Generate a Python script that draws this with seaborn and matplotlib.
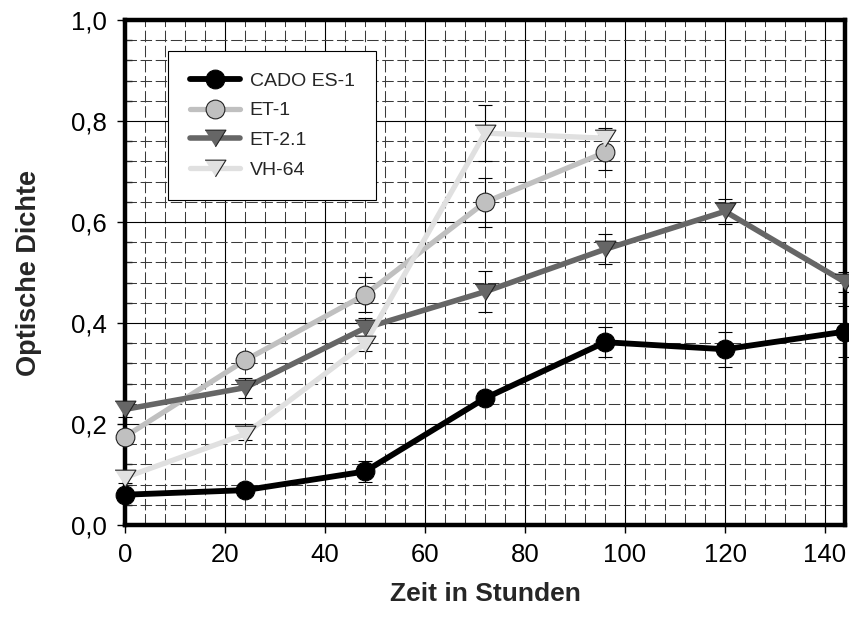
import matplotlib
matplotlib.use("Agg")
import matplotlib.pyplot as plt
import matplotlib.ticker as mticker
import seaborn as sns
import pandas as pd

# ---- data ----
hours_all = [0, 24, 48, 72, 96, 120, 144]
hours_short = [0, 24, 48, 72, 96]

cado_es1 = [0.060, 0.069, 0.106, 0.251, 0.362, 0.348, 0.383]
cado_es1_err = [0.010, 0.010, 0.020, 0.010, 0.030, 0.035, 0.050]

et1 = [0.175, 0.326, 0.456, 0.639, 0.738]
et1_err = [0.010, 0.010, 0.035, 0.048, 0.035]

et21 = [0.229, 0.272, 0.390, 0.462, 0.546, 0.621, 0.481]
et21_err = [0.015, 0.020, 0.020, 0.040, 0.030, 0.025, 0.020]

vh64 = [0.094, 0.180, 0.359, 0.776, 0.766]
vh64_err = [0.010, 0.012, 0.015, 0.055, 0.020]

series_names = ["CADO ES-1", "ET-1", "ET-2.1", "VH-64"]
x_ticks = [0, 20, 40, 60, 80, 100, 120, 140]
y_ticks = [0.0, 0.2, 0.4, 0.6, 0.8, 1.0]
x_label = "Zeit in Stunden"
y_label = "Optische Dichte"

# ---- style ----
sns.set_style("white")
plt.rcParams["font.family"] = ["Liberation Sans", "DejaVu Sans"]

fig = plt.figure(figsize=(8.49, 6.32), dpi=100)
ax = fig.add_axes([125 / 849, 107 / 632, 720 / 849, 505 / 632])

tri = [(-1.0, 0.8), (1.0, 0.8), (0.0, -0.8)]

styles = [
    dict(color="#000000", marker="o", mfc="#000000", mec="#000000", ms=13.5, lw=4.2),
    dict(color="#c0c0c0", marker="o", mfc="#c0c0c0", mec="#222222", ms=13.5, lw=3.8),
    dict(color="#666666", marker=tri, mfc="#666666", mec="#222222", ms=15, lw=4.0),
    dict(color="#e0e0e0", marker=tri, mfc="#e0e0e0", mec="#222222", ms=15, lw=3.8),
]
datasets = [
    (hours_all, cado_es1, cado_es1_err),
    (hours_short, et1, et1_err),
    (hours_all, et21, et21_err),
    (hours_short, vh64, vh64_err),
]

for i, (name, (xs, ys, es), st) in enumerate(zip(series_names, datasets, styles)):
    df = pd.DataFrame({"x": xs, "y": ys})
    ax.errorbar(xs, ys, yerr=es, fmt="none", ecolor="black", elinewidth=0.8,
                capsize=5, capthick=0.8, zorder=3 + i * 0.1, clip_on=False)
    sns.lineplot(data=df, x="x", y="y", ax=ax, label=name, color=st["color"],
                 linewidth=st["lw"], marker=st["marker"], markersize=st["ms"],
                 markerfacecolor=st["mfc"], markeredgecolor=st["mec"],
                 markeredgewidth=0.8, zorder=4 + i * 0.1, clip_on=False)

ax.set_xlim(0, 144)
ax.set_ylim(0, 1.0)
ax.set_xticks(x_ticks)
ax.set_yticks(y_ticks)
ax.xaxis.set_minor_locator(mticker.MultipleLocator(4))
ax.yaxis.set_minor_locator(mticker.MultipleLocator(0.04))
ax.yaxis.set_major_formatter(mticker.FuncFormatter(lambda v, p: f"{v:.1f}".replace(".", ",")))

ax.grid(True, which="major", color="black", linewidth=0.8, linestyle="-")
ax.grid(True, which="minor", color="#3a3a3a", linewidth=0.75, linestyle=(0, (11, 3.5)))
ax.set_axisbelow(True)

for sp in ax.spines.values():
    sp.set_visible(True)
    sp.set_color("black")
    sp.set_linewidth(3.2)
    sp.set_zorder(2.5)

ax.tick_params(axis="both", which="major", direction="out", length=6, width=1,
               colors="black", labelsize=18.5, pad=7)
ax.tick_params(axis="y", which="minor", direction="in", length=5, width=1, left=True)
ax.tick_params(axis="x", which="minor", bottom=False)
ax.tick_params(axis="x", which="major", bottom=True)
ax.tick_params(axis="y", which="major", left=True)

ax.set_xlabel(x_label, fontsize=19, fontweight="bold", labelpad=11)
ax.set_ylabel(y_label, fontsize=19.5, fontweight="bold", labelpad=21)

leg = ax.legend(loc="upper left", bbox_to_anchor=(0.06, 0.939), borderaxespad=0,
                fontsize=14, frameon=True, fancybox=False, shadow=False,
                edgecolor="black", facecolor="white", framealpha=1,
                handlelength=2.6, handletextpad=0.5, borderpad=1.1,
                labelspacing=0.62)
leg.get_frame().set_linewidth(0.8)
leg.set_zorder(10)

fig.savefig("out.png", dpi=100)
